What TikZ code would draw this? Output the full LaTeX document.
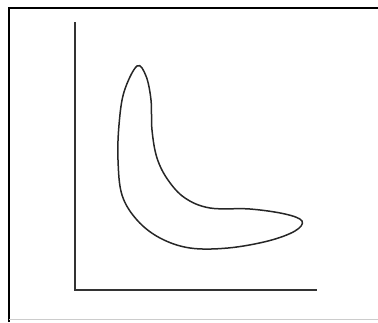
\documentclass[tikz,border=0pt]{standalone}
\begin{document}
\begin{tikzpicture}[x=1pt,y=-1pt,
  axis/.style={line width=2pt,draw=black!80},
  curve/.style={line width=1.5pt,draw=black!85}]
\useasboundingbox (0,0) rectangle (378,322);
% frame
\draw[line width=2pt,black] (9,322) -- (9,8) -- (378,8);
\draw[line width=1pt,black!20] (9,319) -- (378,319);
% axes
\draw[axis] (75,22) -- (75,290) -- (317,290);
% banana curve
\draw[curve] plot[smooth cycle,tension=0.6] coordinates {
  (137,66) (146,76) (151,100) (152,130) (157,158) (168,180) (185,198)
  (210,208) (250,209) (285,214) (302,221) (295,231) (268,241) (228,248)
  (190,248) (160,238) (137,220) (122,195) (118,160) (119,125) (124,92)};
\end{tikzpicture}
\end{document}
